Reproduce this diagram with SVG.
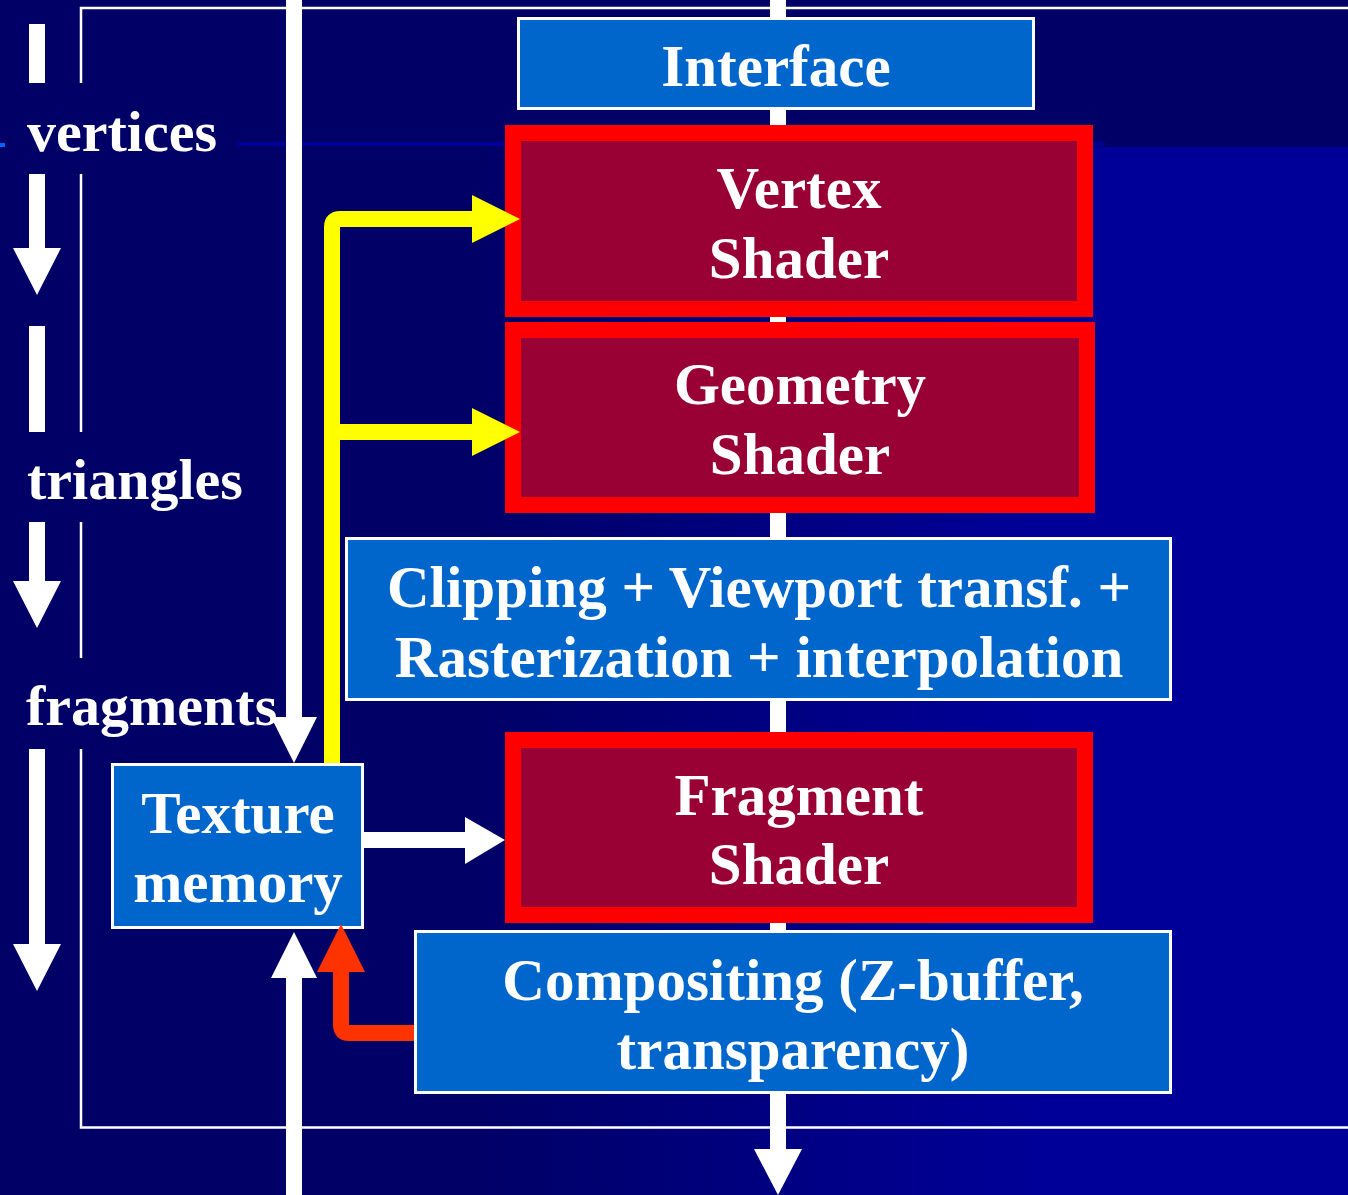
<svg xmlns="http://www.w3.org/2000/svg" width="1348" height="1195" viewBox="0 0 1348 1195">
  <defs>
    <linearGradient id="bgLower" x1="0" y1="0" x2="1348" y2="0" gradientUnits="userSpaceOnUse">
      <stop offset="0.35" stop-color="#000066"/>
      <stop offset="0.78" stop-color="#000099"/>
    </linearGradient>
    <style>
      .lbl { font-family: "Liberation Serif", "Times New Roman", serif; font-weight: bold; font-size: 59px; fill: #ffffff; }
      .side { font-size: 58px; }
      .mid { text-anchor: middle; }
      .blue { fill: #0066cc; stroke: #ffffff; stroke-width: 3; }
      .shader { fill: #990033; stroke: #ff0000; stroke-width: 16; }
      .white { fill: #ffffff; }
      .yellow { fill: #ffff00; }
      .orange { fill: #ff3300; }
      .cover { fill: #000066; }
    </style>
  </defs>

  <!-- slide background -->
  <rect x="0" y="0" width="1348" height="1195" fill="url(#bgLower)"/>
  <rect x="0" y="0" width="1348" height="147" fill="#000066"/>
  <rect x="0" y="143" width="5" height="4" fill="#0066ff"/>
  <rect x="5" y="142" width="1100" height="4" fill="#000099"/>

  <!-- pipeline frame -->
  <rect x="81" y="8" width="1300" height="1119.5" fill="none" stroke="#ffffff" stroke-width="2.5"/>

  <!-- stage arrows on the left -->
  <g id="stage-arrows">
    <polygon class="white" points="29,24 45,24 45,248 61,248 37,295 13,248 29,248"/>
    <polygon class="white" points="29,326 45,326 45,581 61,581 37,628 13,581 29,581"/>
    <polygon class="white" points="29,700 45,700 45,944 61,944 37,991 13,944 29,944"/>
  </g>

  <!-- stage labels -->
  <g id="label-vertices">
    <rect class="cover" x="5" y="83" width="232" height="91"/>
    <text class="lbl side" x="27" y="151">vertices</text>
  </g>
  <g id="label-triangles">
    <rect class="cover" x="5" y="432" width="255" height="90"/>
    <text class="lbl side" x="27" y="499">triangles</text>
  </g>
  <g id="label-fragments">
    <rect class="cover" x="5" y="658" width="280" height="91"/>
    <text class="lbl side" x="26" y="725">fragments</text>
  </g>

  <!-- pipeline stages -->
  <g id="interface">
    <rect class="blue" x="518.5" y="18.5" width="515" height="90"/>
    <text class="lbl mid" x="776" y="86">Interface</text>
  </g>
  <g id="vertex-shader">
    <rect class="shader" x="513" y="133" width="572" height="176"/>
    <text class="lbl mid" x="799" y="208">Vertex</text>
    <text class="lbl mid" x="799" y="278">Shader</text>
  </g>
  <g id="geometry-shader">
    <rect class="shader" x="513" y="330" width="574" height="175"/>
    <text class="lbl mid" x="800" y="404">Geometry</text>
    <text class="lbl mid" x="800" y="474">Shader</text>
  </g>
  <g id="clipping-rasterization">
    <rect class="blue" x="346.5" y="538.5" width="824" height="161"/>
    <text class="lbl mid" x="759" y="607">Clipping + Viewport transf. +</text>
    <text class="lbl mid" x="759" y="677">Rasterization + interpolation</text>
  </g>
  <g id="fragment-shader">
    <rect class="shader" x="513" y="740" width="572" height="175"/>
    <text class="lbl mid" x="799" y="815">Fragment</text>
    <text class="lbl mid" x="799" y="884">Shader</text>
  </g>
  <g id="compositing">
    <rect class="blue" x="415.5" y="931.5" width="755" height="161"/>
    <text class="lbl mid" x="793" y="1000">Compositing (Z-buffer,</text>
    <text class="lbl mid" x="793" y="1069">transparency)</text>
  </g>
  <g id="texture-memory">
    <rect class="blue" x="112.5" y="764.5" width="250" height="163"/>
    <text class="lbl mid" x="238" y="833">Texture</text>
    <text class="lbl mid" x="238" y="902">memory</text>
  </g>

  <!-- connectors -->
  <g id="connectors">
    <!-- main pipeline flow, visible between the stages -->
    <rect class="white" x="770" y="0" width="16" height="17"/>
    <rect class="white" x="770" y="110" width="16" height="15"/>
    <rect class="white" x="770" y="317" width="16" height="5"/>
    <rect class="white" x="770" y="513" width="16" height="24"/>
    <rect class="white" x="770" y="701" width="16" height="31"/>
    <rect class="white" x="770" y="923" width="16" height="7"/>
    <rect class="white" x="770" y="1094" width="16" height="56"/>
    <polygon class="white" points="754,1149 802,1149 778,1195"/>
    <!-- texture upload from above -->
    <rect class="white" x="286" y="0" width="16" height="718"/>
    <polygon class="white" points="271,717 317,717 294,763"/>
    <!-- texture read from below -->
    <rect class="white" x="286" y="977" width="16" height="218"/>
    <polygon class="white" points="271,978 317,978 294,932"/>
    <!-- texture to fragment shader -->
    <rect class="white" x="364" y="832" width="102" height="16"/>
    <polygon class="white" points="465,817 505,840 465,864"/>
    <!-- texture fetch for vertex and geometry shaders -->
    <path d="M332,763 V227 Q332,219 340,219 H474" fill="none" stroke="#ffff00" stroke-width="16"/>
    <rect class="yellow" x="340" y="424" width="134" height="16"/>
    <polygon class="yellow" points="472,195 520,219 472,243"/>
    <polygon class="yellow" points="472,408 520,432 472,456"/>
    <!-- render to texture -->
    <path d="M414,1033 H349 Q341,1033 341,1025 V970" fill="none" stroke="#ff3300" stroke-width="16"/>
    <polygon class="orange" points="317,972 365,972 341,924"/>
  </g>
</svg>
